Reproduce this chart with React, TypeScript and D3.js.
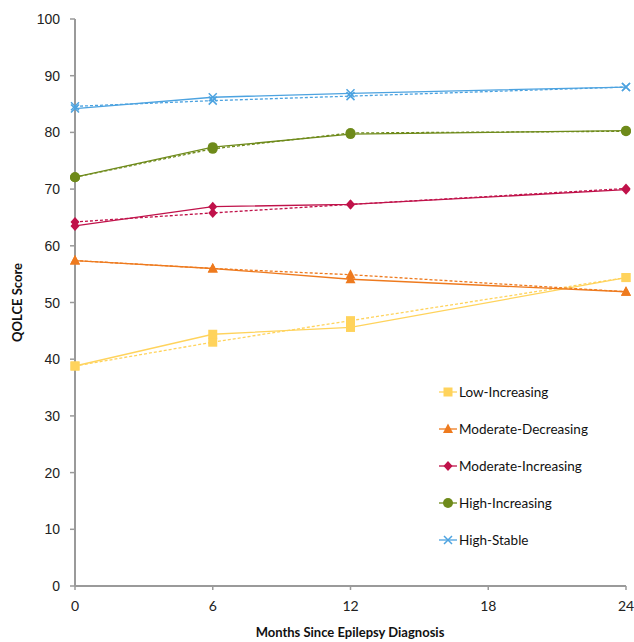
import React from "react";
import * as d3 from "d3";

const months = [0, 6, 12, 24];
const seriesNames = ["Low-Increasing", "Moderate-Decreasing", "Moderate-Increasing", "High-Increasing", "High-Stable"];
const colors = ["#FFD35C", "#EE7A1E", "#C0124A", "#6E8A1A", "#4DA3E0"];
const symbols = ["square", "triangle", "diamond", "circle", "cross"];

// observed (solid) and estimated (dashed)
const lowObserved = [38.8, 44.4, 45.6, 54.4];
const lowEstimated = [38.8, 43.0, 46.8, 54.4];
const modDecObserved = [57.4, 56.0, 54.1, 51.9];
const modDecEstimated = [57.4, 56.0, 54.9, 51.9];
const modIncObserved = [63.5, 66.9, 67.3, 69.9];
const modIncEstimated = [64.2, 65.8, 67.3, 70.1];
const highIncObserved = [72.1, 77.4, 79.7, 80.3];
const highIncEstimated = [72.1, 77.1, 79.9, 80.2];
const stableObserved = [84.2, 86.2, 86.9, 88.0];
const stableEstimated = [84.6, 85.6, 86.4, 88.0];

const observed = [lowObserved, modDecObserved, modIncObserved, highIncObserved, stableObserved];
const estimated = [lowEstimated, modDecEstimated, modIncEstimated, highIncEstimated, stableEstimated];

const yTicks = [0, 10, 20, 30, 40, 50, 60, 70, 80, 90, 100];
const xTicks = [0, 6, 12, 18, 24];

const W = 634;
const H = 642;

function Marker({ type, x, y, color }: { type: string; x: number; y: number; color: string }) {
  if (type === "square") return <rect x={x - 4.5} y={y - 4.5} width={9} height={9} fill={color} />;
  if (type === "triangle") return <path d={`M${x},${y - 5.5}L${x + 5},${y + 4}L${x - 5},${y + 4}Z`} fill={color} />;
  if (type === "diamond") return <path d={`M${x},${y - 5}L${x + 4.5},${y}L${x},${y + 5}L${x - 4.5},${y}Z`} fill={color} />;
  if (type === "circle") return <circle cx={x} cy={y} r={5} fill={color} />;
  return (
    <path d={`M${x - 4},${y - 4}L${x + 4},${y + 4}M${x - 4},${y + 4}L${x + 4},${y - 4}`} stroke={color} strokeWidth={1.5} />
  );
}

export default function App() {
  const x = d3.scaleLinear().domain([0, 24]).range([75, 626]);
  const y = d3.scaleLinear().domain([0, 100]).range([586, 19]);
  const line = d3.line<number>().x((_, i) => x(months[i])).y((d) => y(d));

  const legendY = d3.scalePoint<string>().domain(seriesNames).range([392, 540]);

  return (
    <svg width={W} height={H} style={{ position: "absolute", left: 0, top: 0, background: "#fff" }}>
      {/* axes */}
      <line x1={x(0)} x2={x(0)} y1={y(0)} y2={y(100)} stroke="#9a9a9a" strokeWidth={2} />
      <line x1={x(0)} x2={x(24)} y1={y(0)} y2={y(0)} stroke="#9a9a9a" strokeWidth={2} />
      {yTicks.map((t) => (
        <g key={"y" + t}>
          <line x1={x(0) - 5} x2={x(0)} y1={y(t)} y2={y(t)} stroke="#9a9a9a" strokeWidth={1.5} />
          <text x={x(0) - 15} y={y(t) + 5} textAnchor="end" fontFamily="Liberation Sans, Arial" fontSize={14} fill="#222">
            {t}
          </text>
        </g>
      ))}
      {xTicks.map((t) => (
        <g key={"x" + t}>
          <line x1={x(t)} x2={x(t)} y1={y(0)} y2={y(0) + 4} stroke="#9a9a9a" strokeWidth={1.5} />
          <text x={x(t)} y={611} textAnchor="middle" fontFamily="Lato, Carlito, sans-serif" fontSize={14} fill="#222">
            {t}
          </text>
        </g>
      ))}
      <text
        transform={`translate(22,${y(50)}) rotate(-90)`}
        textAnchor="middle"
        fontFamily="Lato, sans-serif"
        fontWeight="bold"
        fontSize={13}
        fill="#111"
      >
        QOLCE Score
      </text>
      <text x={350} y={637} textAnchor="middle" fontFamily="Lato, sans-serif" fontWeight="bold" fontSize={13} fill="#111">
        Months Since Epilepsy Diagnosis
      </text>

      {/* series */}
      {seriesNames.map((name, s) => (
        <g key={name}>
          <path d={line(estimated[s]) || ""} fill="none" stroke={colors[s]} strokeWidth={1.3} strokeDasharray="3,2" />
          <path d={line(observed[s]) || ""} fill="none" stroke={colors[s]} strokeWidth={1.3} />
          {estimated[s].map((v, i) => (
            <Marker key={"e" + i} type={symbols[s]} x={x(months[i])} y={y(v)} color={colors[s]} />
          ))}
          {observed[s].map((v, i) => (
            <Marker key={"o" + i} type={symbols[s]} x={x(months[i])} y={y(v)} color={colors[s]} />
          ))}
        </g>
      ))}

      {/* legend */}
      {seriesNames.map((name, s) => {
        const ly = legendY(name) as number;
        return (
          <g key={"l" + name}>
            <line x1={439} x2={457} y1={ly} y2={ly} stroke={colors[s]} strokeWidth={1.3} />
            <Marker type={symbols[s]} x={448} y={ly} color={colors[s]} />
            <text x={459} y={ly + 5} fontFamily="Lato, sans-serif" fontSize={13.5} fill="#111">
              {name}
            </text>
          </g>
        );
      })}
    </svg>
  );
}
